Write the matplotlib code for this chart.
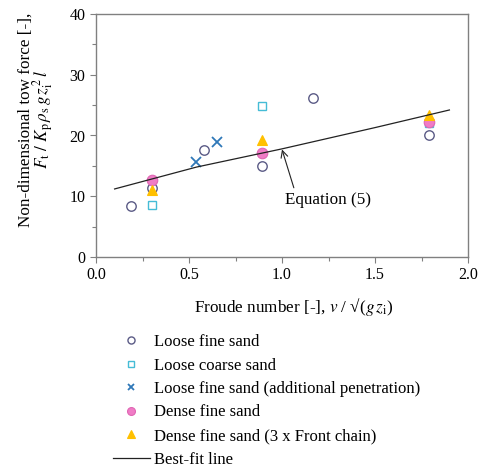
import matplotlib.pyplot as plt
import numpy as np

plt.rcParams['font.family'] = ['Liberation Serif', 'DejaVu Serif']
plt.rcParams['mathtext.fontset'] = 'stix'

# Froude number vs non-dimensional tow force
looseFineX = [0.19, 0.30, 0.58, 0.895, 1.165, 1.79]
looseFineY = [8.35, 11.3, 17.6, 14.9, 26.2, 20.15]

looseCoarseX = [0.30, 0.89, 1.79]
looseCoarseY = [8.6, 24.8, 22.0]

penetrationX = [0.54, 0.65]
penetrationY = [15.7, 19.0]

denseFineX = [0.30, 0.895, 1.79]
denseFineY = [12.6, 17.1, 22.3]

frontChainX = [0.30, 0.895, 1.79]
frontChainY = [11.0, 19.3, 23.3]

fitX = [0.1, 0.54, 1.0, 1.5, 1.9]
fitY = [11.2, 14.8, 17.8, 21.3, 24.2]

fig = plt.figure(figsize=(4.78, 4.67), dpi=100)
ax = fig.add_axes([96 / 478, 1 - 257 / 467, 372 / 478, 243 / 467])

ax.plot(looseFineX, looseFineY, 'o', ls='none', ms=6.8, mfc='none',
        mec='#5b5b86', mew=1.0, label="Loose fine sand")
ax.plot(looseCoarseX, looseCoarseY, 's', ls='none', ms=5.5, mfc='none',
        mec='#45bcd6', mew=1.0, label="Loose coarse sand")
ax.plot(penetrationX, penetrationY, 'x', ls='none', ms=6.5,
        mec='#2f78b8', mew=1.3, label="Loose fine sand (additional penetration)")
ax.plot(denseFineX, denseFineY, 'o', ls='none', ms=7.6, mfc='#f07cc6',
        mec='#e066b4', mew=0.8, label="Dense fine sand")
ax.plot(frontChainX, frontChainY, '^', ls='none', ms=7.2, mfc='#ffc000',
        mec='#ffc000', mew=0.8, label="Dense fine sand (3 x Front chain)")
ax.plot(fitX, fitY, '-', color='#222222', lw=0.9, label="Best-fit line")

ax.annotate("Equation (5)", xy=(1.0, 17.7), xytext=(1.015, 9.4),
            ha='left', va='center', fontsize=12.3,
            arrowprops=dict(arrowstyle='->', color='#222222', lw=0.8,
                            relpos=(0.12, 1.0), shrinkA=1, shrinkB=0))

ax.set_xlim(0, 2.0)
ax.set_ylim(0, 40)
ax.set_xticks(np.arange(0, 2.01, 0.5))
ax.set_xticks(np.arange(0, 2.01, 0.25), minor=True)
ax.set_yticks(np.arange(0, 41, 10))
ax.set_yticks(np.arange(0, 41, 5), minor=True)
ax.set_xticklabels(["0.0", "0.5", "1.0", "1.5", "2.0"])
ax.tick_params(which='both', direction='out', color='#808080', labelsize=11.5,
               width=0.8)
ax.tick_params(which='major', length=4)
ax.tick_params(which='minor', length=3)
for s in ax.spines.values():
    s.set_color('#808080')
    s.set_linewidth(1.0)

ax.set_xlabel("Froude number [-], $v$ / \u221a($g\\,z_\\mathrm{i}$)", fontsize=12.3)
ax.xaxis.set_label_coords(0.532, -0.16)
ax.set_ylabel("Non-dimensional tow force [-],\n"
              r"$F_\mathrm{t}\ /\ K_\mathrm{p}\,\rho_\mathrm{s}\,g\,z_\mathrm{i}^{\,2}\,l$",
              fontsize=12.3, linespacing=0.8)
ax.yaxis.set_label_coords(-0.107, 0.565)

handles, labels = ax.get_legend_handles_labels()
fig.legend(handles, labels, loc='upper left', bbox_to_anchor=(113 / 478, 1 - 334 / 467),
           frameon=False, fontsize=12, markerscale=0.75, handlelength=2.2,
           handletextpad=0.25, labelspacing=0.45, borderpad=0, borderaxespad=0)

fig.savefig("out.png", dpi=100)
